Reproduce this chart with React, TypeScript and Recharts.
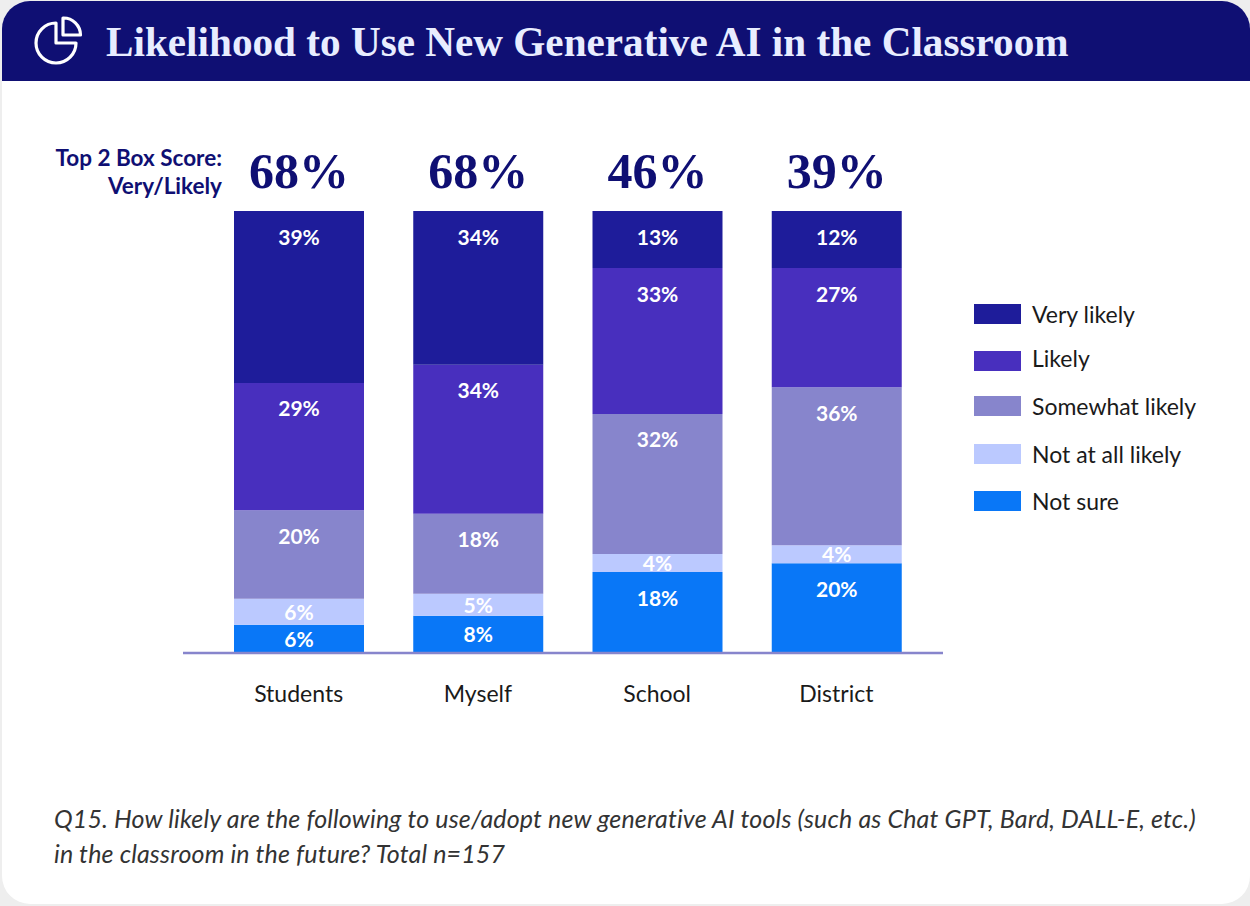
import { Bar, BarChart, LabelList, Legend, XAxis, YAxis } from "recharts";

const categories = ["Students", "Myself", "School", "District"];
const topTwoLabels = ["68%", "68%", "46%", "39%"];

// segment heights, printed labels kept apart since the source rounds differently
const veryLikely = [38.9, 34.8, 12.9, 12.9];
const likely = [28.8, 33.7, 33, 27];
const somewhatLikely = [20, 18.1, 31.7, 35.7];
const notAtAllLikely = [5.9, 5, 4.1, 4.1];
const notSure = [6.4, 8.4, 18.3, 20.3];

const veryLikelyLabels = ["39%", "34%", "13%", "12%"];
const likelyLabels = ["29%", "34%", "33%", "27%"];
const somewhatLikelyLabels = ["20%", "18%", "32%", "36%"];
const notAtAllLikelyLabels = ["6%", "5%", "4%", "4%"];
const notSureLabels = ["6%", "8%", "18%", "20%"];

const data = categories.map((name, i) => ({
  name,
  top2: topTwoLabels[i],
  veryLikely: veryLikely[i],
  likely: likely[i],
  somewhatLikely: somewhatLikely[i],
  notAtAllLikely: notAtAllLikely[i],
  notSure: notSure[i],
  veryLikelyLabel: veryLikelyLabels[i],
  likelyLabel: likelyLabels[i],
  somewhatLikelyLabel: somewhatLikelyLabels[i],
  notAtAllLikelyLabel: notAtAllLikelyLabels[i],
  notSureLabel: notSureLabels[i],
}));

const sans = "Lato, sans-serif";
const serif = "'Liberation Serif', serif";
const navy = "#0F0F73";

function SegmentLabel({ x, y, width, height, value }: any) {
  const dy = height < 40 ? height / 2 - 0.5 : 25;
  return (
    <text
      x={x + width / 2}
      y={y + dy}
      fill="#fff"
      fontFamily={sans}
      fontSize={21}
      fontWeight={700}
      textAnchor="middle"
      dominantBaseline="central"
    >
      {value}
    </text>
  );
}

function TopTwoLabel({ x, width, value }: any) {
  return (
    <text x={x + width / 2} y={188} fill={navy} fontFamily={serif} fontSize={50} fontWeight={700} textAnchor="middle">
      {value}
    </text>
  );
}

const legendRowTops = [0, 47, 92, 140, 187];
const legendTextShift = [0, -3, 0, 0, 0];

function LegendRows({ payload }: any) {
  const rows = [...(payload ?? [])].reverse();
  return (
    <div style={{ position: "relative", width: 276, height: 220 }}>
      {rows.map((item: any, i: number) => (
        <div
          key={item.value}
          style={{ position: "absolute", left: 0, top: legendRowTops[i], display: "flex", alignItems: "center", height: 20 }}
        >
          <span style={{ width: 47, height: 20, background: item.color, marginRight: 11 }} />
          <span
            style={{ fontFamily: sans, fontSize: 23, color: "#1a1a1a", whiteSpace: "nowrap", position: "relative", top: legendTextShift[i] }}
          >
            {item.value}
          </span>
        </div>
      ))}
    </div>
  );
}

export default function App() {
  return (
    <div style={{ position: "absolute", left: 0, top: 0, width: 1250, height: 906, background: "#eeeeee", overflow: "hidden" }}>
      <div style={{ position: "absolute", left: 2, top: 1, width: 1248, height: 903, background: "#fff", borderRadius: 28 }} />
      <div style={{ position: "absolute", left: 2, top: 1, width: 1248, height: 80, background: navy, borderRadius: "28px 28px 0 0" }} />
      <svg width={60} height={60} style={{ position: "absolute", left: 28, top: 10 }} viewBox="28 10 60 60">
        <path d="M56 23 A20 20 0 1 0 76 43 L56 43 Z" fill="none" stroke="#fff" strokeWidth={3.2} strokeLinejoin="round" />
        <path d="M63 18 A17 17 0 0 1 80.5 35 L63 35 Z" fill="none" stroke="#fff" strokeWidth={3.2} strokeLinejoin="round" />
      </svg>
      <div
        style={{ position: "absolute", left: 106, top: 15, fontFamily: serif, fontWeight: 700, fontSize: 41.2, lineHeight: "54px", color: "#E8EDFF", whiteSpace: "nowrap" }}
      >
        Likelihood to Use New Generative AI in the Classroom
      </div>
      <div
        style={{ position: "absolute", right: 1028, top: 144, fontFamily: sans, fontWeight: 700, fontSize: 22.5, lineHeight: "28px", color: navy, textAlign: "right", whiteSpace: "nowrap" }}
      >
        Top 2 Box Score:
        <br />
        Very/Likely
      </div>
      <div style={{ position: "absolute", left: 0, top: 0 }}>
        <BarChart width={1250} height={906} data={data} margin={{ top: 211, right: 31, bottom: 193, left: 183 }} barSize={130}>
          <XAxis
            dataKey="name"
            height={60}
            padding={{ left: 26, right: 17 }}
            axisLine={{ stroke: "#8785CC", strokeWidth: 2.5 }}
            tickLine={false}
            tickMargin={27}
            tick={{ fill: "#1a1a1a", fontFamily: sans, fontSize: 23 }}
          />
          <YAxis hide domain={[0, 100]} />
          <Legend
            layout="vertical"
            align="right"
            verticalAlign="top"
            itemSorter={null}
            wrapperStyle={{ left: 974, top: 304, width: 276 }}
            content={<LegendRows />}
          />
          <Bar dataKey="notSure" name="Not sure" stackId="a" fill="#0977F7" isAnimationActive={false}>
            <LabelList dataKey="notSureLabel" content={<SegmentLabel />} />
          </Bar>
          <Bar dataKey="notAtAllLikely" name="Not at all likely" stackId="a" fill="#BBC9FF" isAnimationActive={false}>
            <LabelList dataKey="notAtAllLikelyLabel" content={<SegmentLabel />} />
          </Bar>
          <Bar dataKey="somewhatLikely" name="Somewhat likely" stackId="a" fill="#8785CC" isAnimationActive={false}>
            <LabelList dataKey="somewhatLikelyLabel" content={<SegmentLabel />} />
          </Bar>
          <Bar dataKey="likely" name="Likely" stackId="a" fill="#482FBE" isAnimationActive={false}>
            <LabelList dataKey="likelyLabel" content={<SegmentLabel />} />
          </Bar>
          <Bar dataKey="veryLikely" name="Very likely" stackId="a" fill="#1E1C9A" isAnimationActive={false}>
            <LabelList dataKey="veryLikelyLabel" content={<SegmentLabel />} />
            <LabelList dataKey="top2" content={<TopTwoLabel />} />
          </Bar>
        </BarChart>
      </div>
      <div
        style={{ position: "absolute", left: 54, top: 801, fontFamily: sans, fontStyle: "italic", fontSize: 25, letterSpacing: 0.15, lineHeight: "35px", color: "#333", whiteSpace: "nowrap" }}
      >
        Q15. How likely are the following to use/adopt new generative AI tools (such as Chat GPT, Bard, DALL-E, etc.)
        <br />
        in the classroom in the future? Total n=157
      </div>
    </div>
  );
}
